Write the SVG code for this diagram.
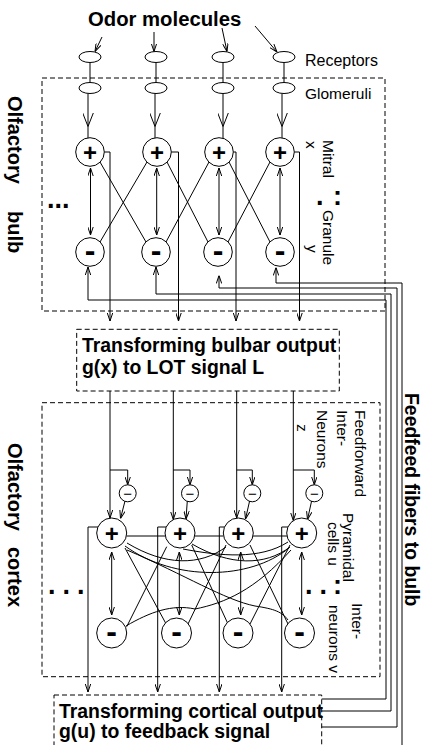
<svg xmlns="http://www.w3.org/2000/svg" width="428" height="745" viewBox="0 0 428 745">
<defs>
<marker id="a" viewBox="0 0 8 6" refX="8" refY="3" markerWidth="8" markerHeight="6" markerUnits="userSpaceOnUse" orient="auto-start-reverse"><path d="M0,0.3 L8,3 L0,5.7" fill="none" stroke="#000" stroke-width="1"/></marker>
<marker id="A" viewBox="0 0 14 11" refX="14" refY="5.5" markerWidth="14" markerHeight="11" markerUnits="userSpaceOnUse" orient="auto"><path d="M0,0 L14,5.5 L0,11" fill="none" stroke="#000" stroke-width="1"/></marker>
<style>
.l{fill:none;stroke:#000;stroke-width:1}
.d{fill:none;stroke:#000;stroke-width:1;stroke-dasharray:5,3}
.c{fill:#fff;stroke:#000;stroke-width:1}
.e{fill:none;stroke:#000;stroke-width:1}
.t{font-family:"Liberation Sans",Arial,sans-serif;font-size:15.5px;fill:#000}
.b{font-family:"Liberation Sans",Arial,sans-serif;font-size:19.4px;font-weight:bold;fill:#000}
.s{font-family:"Liberation Sans",Arial,sans-serif;font-size:20px;font-weight:bold;fill:#000}
.p{font-family:"Liberation Sans",Arial,sans-serif;font-size:24px;font-weight:bold;text-anchor:middle;fill:#000}
.m{font-family:"Liberation Sans",Arial,sans-serif;font-size:32px;font-weight:bold;text-anchor:middle;fill:#000}
.n{font-family:"Liberation Sans",Arial,sans-serif;font-size:15px;text-anchor:middle;fill:#000}
.k{font-family:"Liberation Sans",Arial,sans-serif;font-size:27px;font-weight:bold;fill:#000}
</style>
</defs>

<g id="boxes">
<rect id="bulb-box" class="d" x="42" y="78" width="343" height="233"/>
<rect id="lot-box" class="d" x="76.7" y="329.3" width="262.6" height="61.7"/>
<rect id="cortex-box" class="d" x="42" y="402.7" width="338" height="274"/>
<rect id="out-box" class="d" x="54" y="695" width="267.7" height="70"/>
</g>

<g id="connectors">
<path class="l" marker-end="url(#a)" d="M102,37 L95,51.5"/>
<path class="l" marker-end="url(#a)" d="M154,32 L154,51.5"/>
<path class="l" marker-end="url(#a)" d="M222,28 L227,51.5"/>
<path class="l" marker-end="url(#a)" d="M255,26 L277,52"/>
<path class="l" d="M90,62.5 V82.5 M156,62.5 V82.5 M223,62.5 V82.5 M284,62.5 V82.5"/>
<path class="l" marker-mid="url(#A)" d="M88,93.5 V126.5 V138"/>
<path class="l" marker-mid="url(#A)" d="M155,93.5 V126.5 V138"/>
<path class="l" marker-mid="url(#A)" d="M223,93.5 V126.5 V138.5"/>
<path class="l" marker-mid="url(#A)" d="M282,93.5 V126.5 V138"/>
<path class="l" marker-start="url(#a)" marker-end="url(#a)" d="M90.5,168 V235"/>
<path class="l" marker-start="url(#a)" marker-end="url(#a)" d="M156.7,168 V235"/>
<path class="l" marker-start="url(#a)" marker-end="url(#a)" d="M219,168 V235"/>
<path class="l" marker-start="url(#a)" marker-end="url(#a)" d="M280,168 V235"/>
<path class="l" d="M100,162 L146,242 M147,162 L100,242 M167,162 L208,242 M209,162 L166,242 M229,162 L270,242 M270,162 L228,242"/>
<path class="l" marker-end="url(#a)" d="M104.3,152 H110 V321"/>
<path class="l" marker-end="url(#a)" d="M171.3,152 H178.5 V321"/>
<path class="l" marker-end="url(#a)" d="M233.3,152 H236 V321"/>
<path class="l" marker-end="url(#a)" d="M294.3,152 H299.5 V321"/>
<path class="l" marker-end="url(#a)" d="M321.7,699 H386 V300 H88 V267"/>
<path class="l" marker-end="url(#a)" d="M321.7,711 H391 V294 H156 V267"/>
<path class="l" marker-end="url(#a)" d="M321.7,727 H397 V288 H219 V275.5"/>
<path class="l" marker-end="url(#a)" d="M402,745 V283 H276 V267.5"/>
<path class="l" marker-end="url(#a)" d="M110,391 V518"/>
<path class="l" marker-end="url(#a)" d="M173.3,391 V519.5"/>
<path class="l" marker-end="url(#a)" d="M236.7,391 V518"/>
<path class="l" marker-end="url(#a)" d="M293.3,391 V520.5"/>
<path class="l" marker-end="url(#a)" d="M110,470 H127.7 V484.8"/>
<path class="l" marker-end="url(#a)" d="M173.3,470 H190 V484.8"/>
<path class="l" marker-end="url(#a)" d="M236.7,470 H252.3 V484.8"/>
<path class="l" marker-end="url(#a)" d="M293.3,470 H314.3 V484.8"/>
<path class="l" marker-end="url(#a)" d="M125,501 L120.5,518.5"/>
<path class="l" marker-end="url(#a)" d="M187.3,501 L186,519"/>
<path class="l" marker-end="url(#a)" d="M249.6,501 L245.5,519"/>
<path class="l" marker-end="url(#a)" d="M311.6,501 L307.5,519.5"/>
<path class="l" d="M126.4,536 H165.3 M194.7,536 H223.6 M253,536 H287"/>
<path class="l" marker-end="url(#a)" d="M98.3,527 H88 V692"/>
<path class="l" marker-end="url(#a)" d="M166.3,527 H157.7 V692"/>
<path class="l" marker-end="url(#a)" d="M224.6,527 H219.3 V692"/>
<path class="l" marker-end="url(#a)" d="M288,527 H281.7 V692"/>
<path class="l" marker-start="url(#a)" marker-end="url(#a)" d="M111.7,552 V615"/>
<path class="l" marker-start="url(#a)" marker-end="url(#a)" d="M179.3,552 V615"/>
<path class="l" marker-start="url(#a)" marker-end="url(#a)" d="M240.7,552 V615"/>
<path class="l" marker-start="url(#a)" marker-end="url(#a)" d="M301.7,552 V615"/>
<path class="l" d="M125,548 L168.3,628 M166.7,546.7 L126.7,626.7 M191.7,545 L228,624 M226,545 L188,624 M250,545 L288,624 M290,545 L250,624"/>
<path class="e" d="M125,546 C175,582 250,580 289,548"/>
<path class="e" d="M127,543 C165,566 200,566 226,547"/>
<path class="e" d="M192,544 C230,566 265,566 290,547"/>
<path class="e" d="M183,549 C220,556 260,560 288,542"/>
<path class="e" d="M127,550 C185,575 225,600 255,606 C275,609 282,612 288,620"/>
<path class="e" d="M126,626 C150,612 172,604 195,609 C225,603 255,590 291,550"/>
</g>

<g id="receptors">
<ellipse class="c" cx="90" cy="57" rx="11" ry="5.5"/>
<ellipse class="c" cx="156" cy="57" rx="11" ry="5.5"/>
<ellipse class="c" cx="223" cy="57" rx="11" ry="5.5"/>
<ellipse class="c" cx="284" cy="57" rx="11" ry="5.5"/>
</g>
<g id="glomeruli">
<ellipse class="c" cx="90" cy="88" rx="11" ry="5.5"/>
<ellipse class="c" cx="156" cy="88" rx="11" ry="5.5"/>
<ellipse class="c" cx="223" cy="88" rx="11" ry="5.5"/>
<ellipse class="c" cx="284" cy="88" rx="11" ry="5.5"/>
</g>
<g id="mitral">
<circle class="c" cx="90" cy="152" r="14.3"/><text class="p" x="90" y="160.5">+</text>
<circle class="c" cx="157" cy="152" r="14.3"/><text class="p" x="157" y="160.5">+</text>
<circle class="c" cx="219" cy="152" r="14.3"/><text class="p" x="219" y="160.5">+</text>
<circle class="c" cx="280" cy="152" r="14.3"/><text class="p" x="280" y="160.5">+</text>
</g>
<g id="granule">
<circle class="c" cx="90" cy="252" r="14.3"/><text class="m" x="90" y="260.5">-</text>
<circle class="c" cx="156" cy="252" r="14.3"/><text class="m" x="156" y="260.5">-</text>
<circle class="c" cx="218" cy="252" r="14.3"/><text class="m" x="218" y="260.5">-</text>
<circle class="c" cx="280" cy="252" r="14.3"/><text class="m" x="280" y="260.5">-</text>
</g>
<g id="feedforward">
<circle class="c" cx="127.7" cy="493.3" r="8.5"/><text class="n" x="127.7" y="498.5">−</text>
<circle class="c" cx="190" cy="493.3" r="8.5"/><text class="n" x="190" y="498.5">−</text>
<circle class="c" cx="252.3" cy="493.3" r="8.5"/><text class="n" x="252.3" y="498.5">−</text>
<circle class="c" cx="314.3" cy="493.3" r="8.5"/><text class="n" x="314.3" y="498.5">−</text>
</g>
<g id="pyramidal">
<circle class="c" cx="111.7" cy="533" r="15"/><text class="p" x="111.7" y="541.5">+</text>
<circle class="c" cx="180" cy="533" r="15"/><text class="p" x="180" y="541.5">+</text>
<circle class="c" cx="238.3" cy="533" r="15"/><text class="p" x="238.3" y="541.5">+</text>
<circle class="c" cx="301.7" cy="533" r="15"/><text class="p" x="301.7" y="541.5">+</text>
</g>
<g id="interneurons">
<circle class="c" cx="111.7" cy="633" r="15"/><text class="m" x="111.7" y="641.5">-</text>
<circle class="c" cx="176.5" cy="633" r="15"/><text class="m" x="176.5" y="641.5">-</text>
<circle class="c" cx="238" cy="633" r="15"/><text class="m" x="238" y="641.5">-</text>
<circle class="c" cx="299.5" cy="633" r="15"/><text class="m" x="299.5" y="641.5">-</text>
</g>

<g id="labels">
<text class="b" x="88" y="26" style="font-size:20.3px">Odor molecules</text>
<text class="t" x="305" y="66" style="font-size:16px">Receptors</text>
<text class="t" x="305" y="99">Glomeruli</text>
<text class="t" transform="translate(323,140) rotate(90)">Mitral</text>
<text class="t" transform="translate(305.5,141) rotate(90)">x</text>
<text class="t" transform="translate(323,210) rotate(90)">Granule</text>
<text class="t" transform="translate(307,245) rotate(90)">y</text>
<text class="k" x="47" y="208">...</text>
<text class="k" x="316" y="205">.</text>
<text class="k" x="333" y="205">:</text>
<text class="s" transform="translate(8,96) rotate(90)">Olfactory</text>
<text class="s" transform="translate(8,211) rotate(90)">bulb</text>
<text class="s" transform="translate(8,443) rotate(90)">Olfactory</text>
<text class="s" transform="translate(8,547) rotate(90)">cortex</text>
<text class="b" transform="translate(405,393) rotate(90)">Feedfeed fibers to bulb</text>
<text class="t" transform="translate(355,410) rotate(90)">Feedforward</text>
<text class="t" transform="translate(336.7,410) rotate(90)">Inter-</text>
<text class="t" transform="translate(316.7,410) rotate(90)">Neurons</text>
<text class="t" transform="translate(296.7,424) rotate(90)">z</text>
<text class="t" transform="translate(343,513) rotate(90)">Pyramidal</text>
<text class="t" transform="translate(328,522) rotate(90)">cells u</text>
<text class="t" transform="translate(352,603) rotate(90)">Inter-</text>
<text class="t" transform="translate(328.5,605) rotate(90)">neurons v</text>
<text class="k" x="48" y="594" style="letter-spacing:7px">...</text>
<text class="k" x="305" y="594" style="letter-spacing:7px">..</text>
<text class="k" x="333" y="594">:</text>
<text class="b" x="82" y="351.5">Transforming bulbar output</text>
<text class="b" x="82" y="374">g(x) to LOT signal L</text>
<text class="b" x="59" y="718">Transforming cortical output</text>
<text class="b" x="59" y="738">g(u) to feedback signal</text>
</g>
</svg>
